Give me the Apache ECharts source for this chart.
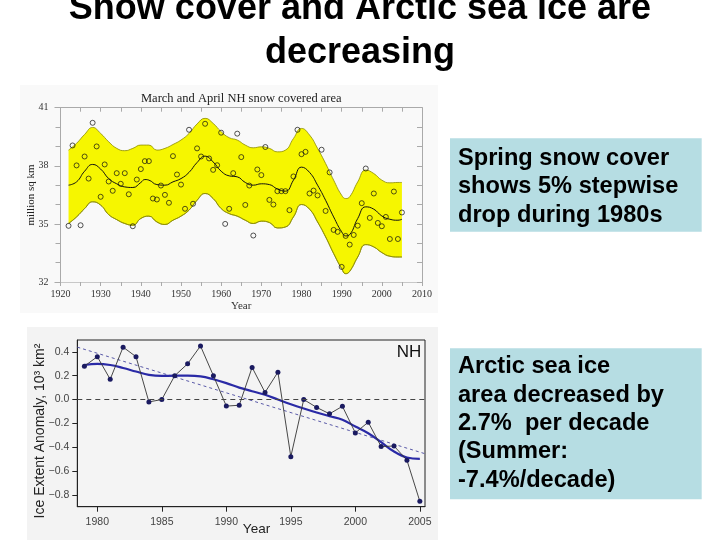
<!DOCTYPE html>
<html><head><meta charset="utf-8">
<script src="https://cdn.jsdelivr.net/npm/echarts@6/dist/echarts.min.js"></script>
<style>html,body{margin:0;padding:0;background:#fff}#c{width:720px;height:540px}</style>
</head><body><div id="c"></div>
<script>
// ---------- Top chart: March and April NH snow covered area ----------
const snowYears = [1922,1923,1924,1925,1926,1927,1928,1929,1930,1931,1932,1933,1934,1935,1936,1937,1938,1939,1940,1941,1942,1943,1944,1945,1946,1947,1948,1949,1950,1951,1952,1953,1954,1955,1956,1957,1958,1959,1960,1961,1962,1963,1964,1965,1966,1967,1968,1969,1970,1971,1972,1973,1974,1975,1976,1977,1978,1979,1980,1981,1982,1983,1984,1985,1986,1987,1988,1989,1990,1991,1992,1993,1994,1995,1996,1997,1998,1999,2000,2001,2002,2003,2004,2005];
const snowValues = [34.9,39.05,38.02,34.93,38.48,37.34,40.22,39.0,36.4,38.07,37.19,36.71,37.62,37.07,37.62,36.53,34.88,37.29,37.83,38.24,38.24,36.31,36.26,36.98,36.5,36.09,38.5,37.55,37.03,35.78,39.86,36.04,38.9,38.48,40.17,38.38,37.79,38.03,39.71,35.0,35.78,37.62,39.66,38.45,35.98,36.98,34.4,37.81,37.52,38.97,36.24,36.0,36.69,36.69,36.69,35.71,37.45,39.86,38.6,38.72,36.57,36.72,36.47,38.83,35.67,37.66,34.69,34.59,32.78,34.38,33.93,34.43,34.91,36.07,37.86,35.31,36.57,35.05,34.88,35.36,34.22,36.67,34.22,35.59];

const snowSmoothYears = [1922,1924,1926,1928,1930,1932,1934,1936,1938,1940,1941,1942,1944,1946,1948,1950,1952,1954,1956,1958,1960,1962,1964,1966,1968,1970,1972,1974,1976,1978,1980,1982,1984,1986,1988,1990,1991,1992,1994,1996,1998,2000,2002,2004,2005];
const snowSmoothValues = [37.0,37.17,37.72,38.07,37.83,37.34,37.07,36.91,36.88,37.14,37.29,37.26,37.03,37.0,37.17,37.34,37.66,38.17,38.5,38.2,37.72,37.48,37.43,37.14,37.0,37.07,37.03,36.8,36.69,37.26,37.93,37.66,37.0,36.22,35.36,34.59,34.38,34.45,35.28,35.88,35.76,35.41,35.24,35.19,35.24];

const bandYears = [1922,1924,1926,1928,1930,1932,1934,1936,1938,1940,1942,1944,1946,1948,1950,1952,1954,1956,1958,1960,1962,1964,1966,1968,1970,1972,1974,1976,1978,1980,1982,1984,1986,1988,1990,1991,1992,1994,1996,1998,2000,2002,2004,2005];
const bandUpper = [38.81,39.16,39.62,39.98,39.67,39.24,38.9,38.78,38.9,39.07,39.07,38.81,38.9,39.1,39.33,39.67,40.16,40.45,40.19,39.76,39.45,39.33,39.07,38.93,38.98,38.9,38.72,38.81,39.41,39.93,39.59,38.9,38.12,37.26,36.48,36.31,36.4,37.17,37.78,37.6,37.26,37.12,37.14,37.14];
const bandLower = [35.02,35.36,35.79,36.14,35.97,35.48,35.22,35.02,34.93,35.28,35.4,35.1,34.97,35.19,35.4,35.71,36.22,36.57,36.31,35.79,35.53,35.4,35.19,35.02,35.14,35.07,34.79,34.84,35.36,36.0,35.76,35.1,34.33,33.47,32.69,32.43,32.55,33.29,33.93,33.81,33.52,33.33,33.29,33.29];

// ---------- Bottom chart: NH sea ice extent anomaly ----------
const seaYears = [1979,1980,1981,1982,1983,1984,1985,1986,1987,1988,1989,1990,1991,1992,1993,1994,1995,1996,1997,1998,1999,2000,2001,2002,2003,2004,2005];
const seaValues = [0.28,0.36,0.17,0.44,0.36,-0.02,0.0,0.2,0.30,0.45,0.2,-0.055,-0.048,0.27,0.06,0.23,-0.48,0.0,-0.066,-0.12,-0.057,-0.28,-0.19,-0.395,-0.39,-0.51,-0.855];
const seaSmooth = [0.29,0.30,0.29,0.265,0.235,0.207,0.198,0.2,0.2,0.194,0.17,0.138,0.1,0.07,0.04,0.0,-0.039,-0.075,-0.109,-0.14,-0.17,-0.227,-0.283,-0.358,-0.437,-0.487,-0.498];
const trendYears = [1978.45,2005.4];
const trendValues = [0.44,-0.455];
const seaXTicks = [1980,1985,1990,1995,2000,2005];
const seaYTicks = [-0.8,-0.6,-0.4,-0.2,0.0,0.2,0.4];

const pairs = (xs, ys) => xs.map((x, i) => [x, ys[i]]);
// value first, year second, so that stacking is done on the value (y) dimension
const vyPairs = (xs, ys) => xs.map((x, i) => [ys[i], x]);
const serif = '"Liberation Serif", "Times New Roman", serif';
const sans = '"Liberation Sans", Arial, sans-serif';
const topBg = '#f9f9f9';

const chart = echarts.init(document.getElementById('c'), null, {renderer: 'canvas'});

const topX = 60.5, topY = 107.7, topW = 361.5, topH = 174.3;
const botX = 77.3, botY = 340, botW = 347.7, botH = 166.7;
const boxFont = 'bold 23.6px ' + sans;

const option = {
  animation: false,
  backgroundColor: '#ffffff',
  grid: [
    {left: topX, top: topY, width: topW, height: topH, containLabel: false, outerBoundsMode: 'none'},
    {left: botX, top: botY, width: botW, height: botH, containLabel: false, outerBoundsMode: 'none', show: true,
     backgroundColor: '#f4f4f4', borderColor: '#222', borderWidth: 1}
  ],
  xAxis: [
    {type: 'value', gridIndex: 0, min: 1920, max: 2010, interval: 10, position: 'bottom', z: 10,
     axisLine: {show: true, lineStyle: {color: '#c8c8c8', width: 1}},
     axisTick: {show: true, inside: false, length: 4, lineStyle: {color: '#aaa'}},
     minorTick: {show: true, splitNumber: 2, length: 4, lineStyle: {color: '#aaa'}},
     splitLine: {show: false},
     axisLabel: {fontFamily: serif, fontSize: 10, color: '#333', margin: 7, formatter: v => String(v)},
     name: 'Year', nameLocation: 'middle', nameGap: 19, nameMoveOverlap: false,
     nameTextStyle: {fontFamily: serif, fontSize: 11, color: '#333'}},
    {type: 'value', gridIndex: 0, min: 1920, max: 2010, interval: 10, position: 'top', z: 10,
     axisLine: {show: true, lineStyle: {color: '#aaa', width: 1}},
     axisTick: {show: true, inside: true, length: 4, lineStyle: {color: '#aaa'}},
     minorTick: {show: true, splitNumber: 2, length: 4, lineStyle: {color: '#aaa'}},
     splitLine: {show: false}, axisLabel: {show: false}},
    {type: 'value', gridIndex: 1, min: 1978.45, max: 2005.4, position: 'bottom',
     axisLine: {show: true, onZero: false, lineStyle: {color: '#222', width: 1}},
     axisTick: {show: true, inside: false, length: 5, customValues: seaXTicks, lineStyle: {color: '#222'}},
     splitLine: {show: false},
     axisLabel: {customValues: seaXTicks, fontFamily: sans, fontSize: 10.5, color: '#444', margin: 10,
                 formatter: v => String(Math.round(v))}}
  ],
  yAxis: [
    {type: 'value', gridIndex: 0, min: 32, max: 41, interval: 3, position: 'left', z: 10,
     axisLine: {show: true, lineStyle: {color: '#aaa', width: 1}},
     axisTick: {show: true, inside: false, length: 6, lineStyle: {color: '#aaa'}},
     minorTick: {show: true, splitNumber: 3, length: 5, lineStyle: {color: '#aaa'}},
     splitLine: {show: false},
     axisLabel: {fontFamily: serif, fontSize: 10, color: '#333', margin: 12}},
    {type: 'value', gridIndex: 0, min: 32, max: 41, interval: 3, position: 'right', z: 10,
     axisLine: {show: true, lineStyle: {color: '#aaa', width: 1}},
     axisTick: {show: true, inside: true, length: 5, lineStyle: {color: '#aaa'}},
     minorTick: {show: true, splitNumber: 3, length: 5, lineStyle: {color: '#aaa'}},
     splitLine: {show: false}, axisLabel: {show: false}},
    {type: 'value', gridIndex: 1, min: -0.9, max: 0.5, position: 'left',
     axisLine: {show: true, onZero: false, lineStyle: {color: '#222', width: 1}},
     axisTick: {show: true, inside: false, length: 5, customValues: seaYTicks, lineStyle: {color: '#222'}},
     splitLine: {show: false},
     axisLabel: {customValues: seaYTicks, fontFamily: sans, fontSize: 10.5, color: '#444', margin: 8,
                 formatter: v => (v < -1e-9 ? '\u2212' : '') + Math.abs(v).toFixed(1)}}
  ],
  graphic: [
    {type: 'rect', z: -10, shape: {x: 20, y: 85, width: 418, height: 228}, style: {fill: topBg}},
    {type: 'rect', z: -10, shape: {x: 27, y: 327, width: 411, height: 213}, style: {fill: '#f3f3f3'}},
    {type: 'text', z: 10, x: 360, y: 9, style: {text: 'Snow cover and Arctic sea ice are', font: 'bold 36px ' + sans,
      fill: '#000', align: 'center', verticalAlign: 'middle'}},
    {type: 'text', z: 10, x: 360, y: 53, style: {text: 'decreasing', font: 'bold 36px ' + sans,
      fill: '#000', align: 'center', verticalAlign: 'middle'}},
    {type: 'text', z: 10, x: 241.3, y: 98.3, style: {text: 'March and April NH snow covered area', font: '12.5px ' + serif,
      fill: '#222', align: 'center', verticalAlign: 'middle'}},
    {type: 'text', z: 10, x: 31, y: 195, rotation: Math.PI / 2, style: {text: 'million sq km', font: '11px ' + serif,
      fill: '#222', align: 'center', verticalAlign: 'middle'}},
    {type: 'text', z: 10, x: 40, y: 431, rotation: Math.PI / 2, style: {text: 'Ice Extent Anomaly, 10\u00b3 km\u00b2', font: '14px ' + sans,
      fill: '#222', align: 'center', verticalAlign: 'middle'}},
    {type: 'text', z: 10, x: 256.5, y: 529.5, style: {text: 'Year', font: '13.5px ' + sans,
      fill: '#222', align: 'center', verticalAlign: 'middle'}},
    {type: 'text', z: 10, x: 409, y: 352, style: {text: 'NH', font: '17px ' + sans,
      fill: '#111', align: 'center', verticalAlign: 'middle'}},
    {type: 'rect', z: 5, shape: {x: 450, y: 138.3, width: 251.7, height: 93.4}, style: {fill: '#b6dde3'}},
    {type: 'rect', z: 5, shape: {x: 450, y: 348.3, width: 251.7, height: 151}, style: {fill: '#b6dde3'}},
    {type: 'text', z: 10, x: 458, y: 158.3, style: {text: 'Spring snow cover', font: boxFont, fill: '#000', align: 'left', verticalAlign: 'middle'}},
    {type: 'text', z: 10, x: 458, y: 186.7, style: {text: 'shows 5% stepwise', font: boxFont, fill: '#000', align: 'left', verticalAlign: 'middle'}},
    {type: 'text', z: 10, x: 458, y: 215.1, style: {text: 'drop during 1980s', font: boxFont, fill: '#000', align: 'left', verticalAlign: 'middle'}},
    {type: 'text', z: 10, x: 458, y: 366.7, style: {text: 'Arctic sea ice', font: boxFont, fill: '#000', align: 'left', verticalAlign: 'middle'}},
    {type: 'text', z: 10, x: 458, y: 395.1, style: {text: 'area decreased by', font: boxFont, fill: '#000', align: 'left', verticalAlign: 'middle'}},
    {type: 'text', z: 10, x: 458, y: 423.5, style: {text: '2.7%  per decade', font: boxFont, fill: '#000', align: 'left', verticalAlign: 'middle'}},
    {type: 'text', z: 10, x: 458, y: 451.9, style: {text: '(Summer:', font: boxFont, fill: '#000', align: 'left', verticalAlign: 'middle'}},
    {type: 'text', z: 10, x: 458, y: 480.3, style: {text: '-7.4%/decade)', font: boxFont, fill: '#000', align: 'left', verticalAlign: 'middle'}}
  ],
  series: [
    // yellow band: lower edge + stacked thickness (upper - lower), stacked on the value dimension
    {type: 'line', name: 'band-base', xAxisIndex: 0, yAxisIndex: 0, smooth: 0.5, stack: 'band',
     symbol: 'none', silent: true, z: 1, encode: {x: 1, y: 0},
     lineStyle: {color: '#8c8c00', width: 0.8},
     data: vyPairs(bandYears, bandLower)},
    {type: 'line', name: 'band', xAxisIndex: 0, yAxisIndex: 0, smooth: 0.5, stack: 'band',
     symbol: 'none', silent: true, z: 1, encode: {x: 1, y: 0},
     lineStyle: {color: '#8c8c00', width: 0.8},
     areaStyle: {color: '#f6f600', opacity: 1},
     data: vyPairs(bandYears, bandUpper.map((u, i) => u - bandLower[i]))},
    {type: 'line', name: 'band-lower-edge', xAxisIndex: 0, yAxisIndex: 0, smooth: 0.5,
     symbol: 'none', silent: true, z: 2, lineStyle: {color: '#8c8c00', width: 0.8},
     data: pairs(bandYears, bandLower)},
    {type: 'line', name: 'snow-smooth', xAxisIndex: 0, yAxisIndex: 0, smooth: 0.5,
     symbol: 'none', silent: true, z: 3, lineStyle: {color: '#111', width: 1},
     data: pairs(snowSmoothYears, snowSmoothValues)},
    {type: 'scatter', name: 'snow', xAxisIndex: 0, yAxisIndex: 0, symbol: 'circle', symbolSize: 5, z: 4,
     itemStyle: {color: 'rgba(0,0,0,0)', borderColor: '#111', borderWidth: 0.9},
     data: pairs(snowYears, snowValues)},

    {type: 'line', name: 'trend', xAxisIndex: 2, yAxisIndex: 2, symbol: 'none', silent: true, z: 2,
     lineStyle: {color: '#5a5aa8', width: 1, type: [3, 3]},
     data: pairs(trendYears, trendValues),
     markLine: {silent: true, symbol: 'none', label: {show: false},
       lineStyle: {color: '#444', width: 1, type: [5, 4]}, data: [{yAxis: 0}]}},
    {type: 'line', name: 'sea-smooth', xAxisIndex: 2, yAxisIndex: 2, smooth: 0.4, symbol: 'none', silent: true, z: 3,
     lineStyle: {color: '#2a2aa6', width: 2.2},
     data: pairs(seaYears, seaSmooth)},
    {type: 'line', name: 'sea', xAxisIndex: 2, yAxisIndex: 2, symbol: 'circle', symbolSize: 5, z: 4,
     lineStyle: {color: '#333', width: 0.9},
     itemStyle: {color: '#1a1a60', borderWidth: 0},
     data: pairs(seaYears, seaValues)}
  ]
};
chart.setOption(option);
</script>
</body></html>
